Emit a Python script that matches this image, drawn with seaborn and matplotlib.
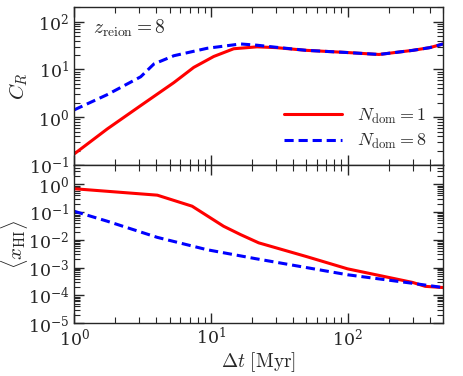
import numpy as np
import pandas as pd
import matplotlib
matplotlib.use("Agg")
import matplotlib.pyplot as plt
import matplotlib.ticker as mticker
import seaborn as sns

# values
dt_red_top = [1, 1.75, 3.07, 5.37, 7.5, 10.5, 14.7, 21.8, 30, 50, 100, 170, 300, 400, 500]
cr_red = [0.17, 0.57, 1.75, 5.3, 11, 18.6, 27, 29.6, 28.5, 25, 22.5, 20.5, 25, 28.5, 34]
dt_blue_top = [1, 1.75, 3.07, 3.84, 5.37, 9.4, 16.5, 21.8, 30, 50, 100, 170, 300, 400, 500]
cr_blue = [1.42, 2.97, 7.0, 13, 19.3, 27.6, 34, 32, 29, 25, 22.5, 20.5, 25, 28.5, 34]

dt_red_bot = [1, 4.06, 7.3, 12.4, 16.5, 22.4, 50, 100, 300, 370, 500]
xhi_red = [0.70, 0.41, 0.164, 0.031, 0.0155, 0.0078, 0.0025, 9e-4, 2.9e-4, 2.1e-4, 1.9e-4]
dt_blue_bot = [1, 1.75, 4.06, 9.4, 21.2, 50, 100, 300, 500]
xhi_blue = [0.108, 0.047, 0.0123, 0.0044, 0.0021, 1.0e-3, 5.5e-4, 2.7e-4, 1.9e-4]

labels = [r'$N_{\rm dom}=1$', r'$N_{\rm dom}=8$']

sns.set_style("ticks")
plt.rcParams['font.family'] = ['DejaVu Serif']
plt.rcParams['mathtext.fontset'] = 'cm'
plt.rcParams['xtick.direction'] = 'in'
plt.rcParams['ytick.direction'] = 'in'
plt.rcParams['xtick.top'] = True
plt.rcParams['ytick.right'] = True

fig = plt.figure(figsize=(4.63, 3.76), dpi=100)
ax1 = fig.add_axes([0.160, 0.561, 0.797, 0.420])
ax2 = fig.add_axes([0.160, 0.141, 0.797, 0.420], sharex=ax1)

top_red = pd.DataFrame({'dt': dt_red_top, 'y': cr_red})
top_blue = pd.DataFrame({'dt': dt_blue_top, 'y': cr_blue})
bot_red = pd.DataFrame({'dt': dt_red_bot, 'y': xhi_red})
bot_blue = pd.DataFrame({'dt': dt_blue_bot, 'y': xhi_blue})

sns.lineplot(data=top_red, x='dt', y='y', ax=ax1, color='red', lw=2.2, label=labels[0])
sns.lineplot(data=top_blue, x='dt', y='y', ax=ax1, color='blue', lw=2.2, label=labels[1])
ax1.lines[1].set_dashes([3, 1.6])
sns.lineplot(data=bot_red, x='dt', y='y', ax=ax2, color='red', lw=2.2)
sns.lineplot(data=bot_blue, x='dt', y='y', ax=ax2, color='blue', lw=2.2)
ax2.lines[1].set_dashes([3, 1.6])

for ax in (ax1, ax2):
    ax.set_xscale('log')
    ax.set_yscale('log')
    ax.xaxis.set_minor_locator(mticker.LogLocator(base=10, subs=np.arange(2, 10), numticks=20))
    ax.yaxis.set_major_locator(mticker.LogLocator(base=10, numticks=20))
    ax.yaxis.set_minor_locator(mticker.LogLocator(base=10, subs=np.arange(2, 10), numticks=20))
    ax.yaxis.set_minor_formatter(mticker.NullFormatter())
    ax.xaxis.set_minor_formatter(mticker.NullFormatter())
    ax.tick_params(which='major', length=7, width=1.0, labelsize=12.5, colors='.15')
    ax.tick_params(which='minor', length=4, width=0.8, color='.15')
    ax.tick_params(axis='x', pad=3)
    for s in ax.spines.values():
        s.set_linewidth(1.0)

ax1.set_xlim(1, 500)
ax1.set_ylim(0.1, 200)
ax2.set_ylim(1e-5, 5)
ax1.tick_params(labelbottom=False)
ax1.set_xlabel('')
ax1.set_ylabel(r'$C_R$', fontsize=15)
ax2.set_ylabel(r'$\langle x_{\rm HI}\rangle$', fontsize=15)
ax2.set_xlabel(r'$\Delta t\ [{\rm Myr}]$', fontsize=14, labelpad=1)
ax1.yaxis.set_label_coords(-0.12, 0.5)
ax2.yaxis.set_label_coords(-0.12, 0.5)

ax1.text(0.05, 0.83, r'$z_{\rm reion}=8$', transform=ax1.transAxes, fontsize=14)
ax1.legend(loc='lower right', frameon=False, fontsize=13, handlelength=3.2,
           labelspacing=0.35, bbox_to_anchor=(1.0, -0.015))

fig.savefig('out.png', dpi=100)
